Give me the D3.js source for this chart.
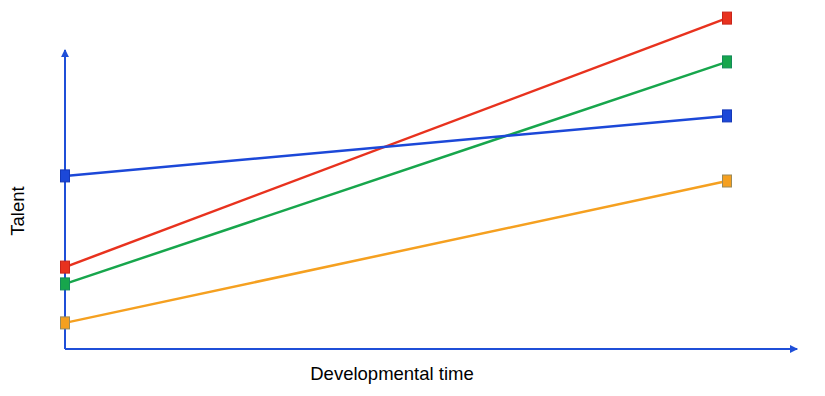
<!DOCTYPE html>
<html>
<head>
<meta charset="utf-8">
<script src="https://cdn.jsdelivr.net/npm/d3@7"></script>
<style>
body{margin:0;background:#fff;}
</style>
</head>
<body>
<script>
// data: talent at start and end of developmental time
const times=[0,1];
const seriesNames=["red","green","blue","orange"];
const redVals=[27.3,110.3];
const greenVals=[21.7,95.7];
const blueVals=[57.7,77.7];
const orangeVals=[8.7,56];
const colors={red:"#e8321e",green:"#17a64c",blue:"#1c48d8",orange:"#f5a020"};
const strokes={red:"#c8241a",green:"#138a5a",blue:"#1438b8",orange:"#9a8a5a"};
const allVals={red:redVals,green:greenVals,blue:blueVals,orange:orangeVals};

const w=825,h=396;
const svg=d3.select("body").append("svg")
.attr("width",w).attr("height",h)
.style("font-family","'Liberation Sans',Arial,sans-serif");

const x=d3.scaleLinear().domain([0,1]).range([65,727]);
const y=d3.scaleLinear().domain([0,100]).range([349,49]);
const axisCol="#1f4fd8";

const defs=svg.append("defs");
defs.append("marker").attr("id","arr")
.attr("viewBox","0 0 10 10").attr("refX",9).attr("refY",5)
.attr("markerWidth",4).attr("markerHeight",4).attr("orient","auto")
.append("path").attr("d","M0,0L10,5L0,10z").attr("fill",axisCol);

// axes
svg.append("line").attr("x1",x(0)).attr("y1",y(0)).attr("x2",x(0)).attr("y2",y(99.7))
.attr("stroke",axisCol).attr("stroke-width",2).attr("marker-end","url(#arr)");
svg.append("line").attr("x1",x(0)).attr("y1",y(0)).attr("x2",x(1.106)).attr("y2",y(0))
.attr("stroke",axisCol).attr("stroke-width",2).attr("marker-end","url(#arr)");

const line=d3.line().x((d,i)=>x(times[i])).y(d=>y(d));
seriesNames.forEach(s=>{
  svg.append("path").datum(allVals[s]).attr("d",line)
  .attr("fill","none").attr("stroke",colors[s]).attr("stroke-width",2.5);
});
seriesNames.forEach(s=>{
  svg.selectAll(null).data(allVals[s]).join("rect")
  .attr("x",(d,i)=>x(times[i])-4.5).attr("y",d=>y(d)-6)
  .attr("width",9).attr("height",12)
  .attr("fill",colors[s]).attr("stroke",strokes[s]).attr("stroke-width",1);
});

svg.append("text").attr("x",392).attr("y",380).attr("text-anchor","middle")
.style("font-size","18.5px").text("Developmental time");
svg.append("text").attr("transform","translate(24,211) rotate(-90)")
.attr("text-anchor","middle").style("font-size","18.5px").text("Talent");
</script>
</body>
</html>
